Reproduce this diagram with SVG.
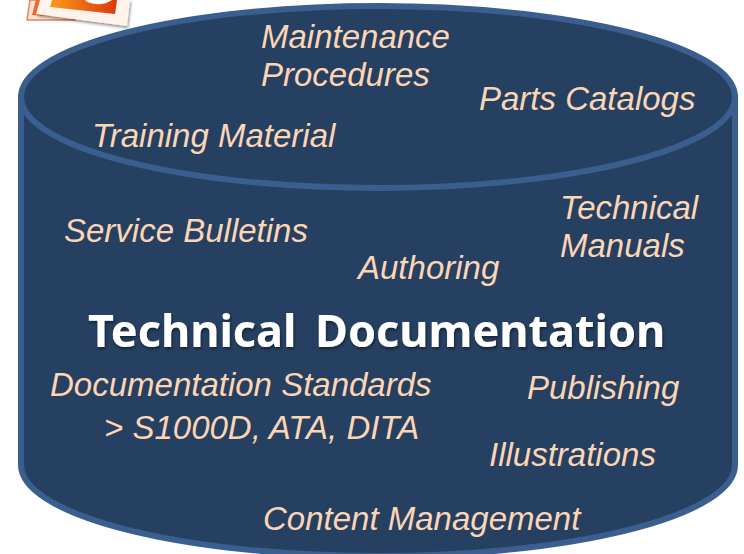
<svg xmlns="http://www.w3.org/2000/svg" width="744" height="554" viewBox="0 0 744 554">
<style>
.l{font-family:"Liberation Sans",Arial,sans-serif;font-style:italic;font-size:33px;fill:#fcd5b5}
.t{font-family:"Noto Sans","Open Sans",sans-serif;font-weight:700;font-size:45px;fill:#fff}
</style>
<defs>
<linearGradient id="g" x1="0" y1="0" x2="1" y2="0"><stop offset="0" stop-color="#f99a1f"/><stop offset="1" stop-color="#dc3a08"/></linearGradient>
<filter id="s" x="-5%" y="-20%" width="110%" height="140%"><feDropShadow dx="1" dy="2" stdDeviation="1.5" flood-color="#000" flood-opacity=".45"/></filter>
</defs>
<g id="icon">
<path d="M30 0L27 20L75 20L60 0Z" fill="#fbe3d6" stroke="#f08050" stroke-width="1.5"/>
<path d="M36 0L32 15L70 17L75 0Z" fill="#ee6a2a"/>
<path d="M40 0L36 14L127 26L130 0Z" fill="#fff3ec" filter="url(#s)"/>
<path d="M52 0L50 7L115 14L117 0Z" fill="url(#g)"/>
<path d="M85 0C90 5 104 6 112 0Z" fill="#fff"/>
</g>
<g id="cylinder">
<path d="M21 97V465A357 91 0 0 0 735 465V97Z" fill="#264061" stroke="#3a5f8f" stroke-width="6"/>
<ellipse cx="378" cy="97" rx="357" ry="91" fill="#264061" stroke="#3a5f8f" stroke-width="6"/>
</g>
<g id="labels">
<text class="l" x="261" y="48">Maintenance</text>
<text class="l" x="261" y="86">Procedures</text>
<text class="l" x="479" y="110">Parts Catalogs</text>
<text class="l" x="92" y="147">Training Material</text>
<text class="l" x="64" y="242">Service Bulletins</text>
<text class="l" x="560" y="219">Technical</text>
<text class="l" x="560" y="257">Manuals</text>
<text class="l" x="358" y="279">Authoring</text>
<text class="t" x="88" y="347" filter="url(#s)">Technical <tspan x="315">Documentation</tspan></text>
<text class="l" x="50" y="396">Documentation Standards</text>
<text class="l" x="104" y="439">&gt; S1000D, ATA, DITA</text>
<text class="l" x="527" y="399">Publishing</text>
<text class="l" x="489" y="466">Illustrations</text>
<text class="l" x="263" y="530">Content Management</text>
</g>
</svg>
